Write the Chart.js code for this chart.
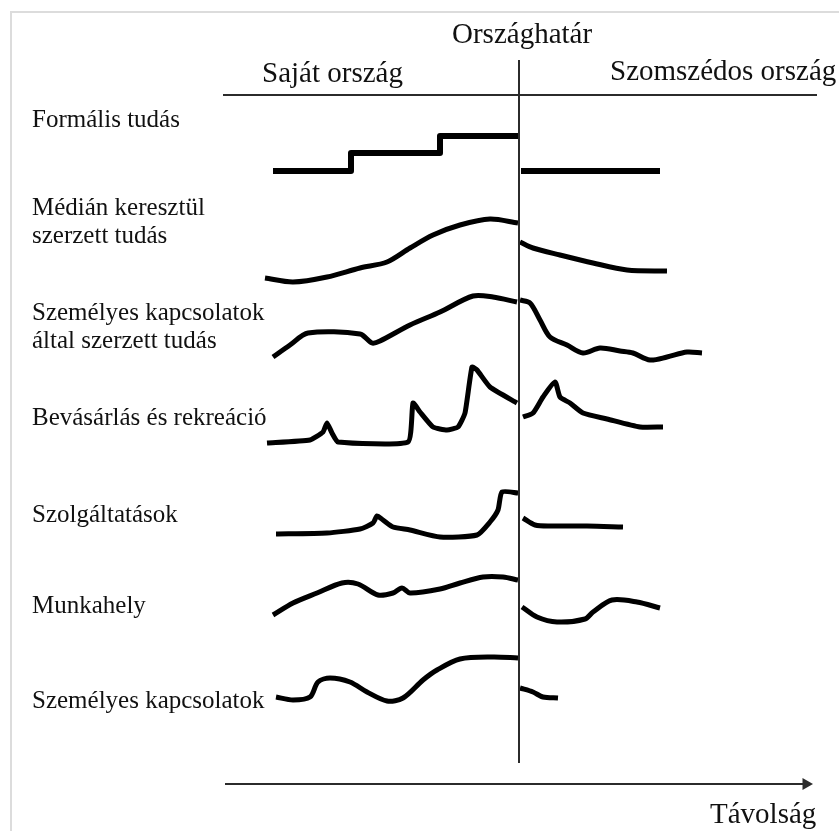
<!DOCTYPE html>
<html>
<head>
<meta charset="utf-8">
<script src="https://cdn.jsdelivr.net/npm/chart.js@4.4.1/dist/chart.umd.min.js"></script>
<style>
  body { margin: 0; background: #fff; }
  #wrap { position: relative; width: 839px; height: 831px; overflow: hidden; }
  #frame { position: absolute; left: 10px; top: 11px; width: 900px; height: 900px;
           border-left: 2px solid #dcdcdc; border-top: 2px solid #dcdcdc; }
  canvas { position: absolute; left: 0; top: 0; }
  .t { position: absolute; font-family: "Liberation Serif", "Times New Roman", serif;
       color: #111; white-space: nowrap; line-height: 1; }
  .lab { font-size: 25px; }
  .head { font-size: 29px; }
</style>
</head>
<body>
<div id="wrap">
  <div id="frame"></div>
  <canvas id="chart" width="839" height="831"></canvas>
  <div id="texts"></div>
</div>
<script>
// row labels, [text, x, baseline]
var rowLabels = [
    ["Formális tudás", 32, 127],
    ["Médián keresztül", 32, 215],
    ["szerzett tudás", 32, 243],
    ["Személyes kapcsolatok", 32, 320],
    ["által szerzett tudás", 32, 348],
    ["Bevásárlás és rekreáció", 32, 425],
    ["Szolgáltatások", 32, 522],
    ["Munkahely", 32, 613],
    ["Személyes kapcsolatok", 32, 708]
];
var headLabels = [
    ["Országhatár", 452, 43],
    ["Saját ország", 262, 82],
    ["Szomszédos ország", 610, 80],
    ["Távolság", 710, 823]
];

// curves: [x, y] (y grows downwards)
var formalisOwn = [[273,171],[351,171],[351,153],[440,153],[440,136],[519,136]];
var formalisNext = [[521,171],[660,171]];
var medianOwn = [[265,278],[293,282],[327,277],[360,268],[387,262],[410,248],[433,235],[460,225],[490,219],[518,223]];
var medianNext = [[520,242],[533,248],[560,255],[593,263],[627,270],[667,271]];
var szemelyesOwn = [[273,357],[290,345],[308,333],[360,334],[372,343],[380,341],[410,325],[440,312],[473,296],[493,297],[517,302]];
var szemelyesNext = [[520,300],[530,303],[540,320],[550,337],[567,345],[583,353],[600,348],[620,351],[633,353],[650,360],[667,357],[687,352],[702,353]];
var bevasarlasOwn = [[267,443],[310,440],[323,432],[327,423],[332,433],[338,442],[408,442],[413,403],[420,412],[433,427],[447,430],[458,427],[465,413],[472,367],[477,370],[490,387],[517,403]];
var bevasarlasNext = [[523,417],[533,413],[543,397],[555,382],[560,397],[570,403],[583,413],[607,419],[640,427],[663,427]];
var szolgOwn = [[276,534],[327,533],[360,529],[373,523],[377,516],[383,520],[393,527],[410,530],[440,537],[477,535],[490,522],[498,510],[502,492],[518,493]];
var szolgNext = [[523,518],[535,525],[553,526],[587,526],[623,527]];
var munkaOwn = [[273,615],[293,603],[317,593],[342,583],[358,584],[378,595],[393,593],[402,588],[410,593],[440,589],[460,583],[483,577],[503,577],[518,580]];
var munkaNext = [[522,607],[537,617],[557,622],[585,619],[593,612],[612,600],[637,602],[660,608]];
var kapcsOwn = [[276,697],[293,700],[310,697],[318,682],[330,678],[350,682],[367,692],[387,701],[403,698],[423,680],[437,670],[460,659],[493,657],[518,658]];
var kapcsNext = [[520,688],[533,692],[543,697],[558,698]];

// frame lines
var borderLine = [[519,60],[519,763]];
var headerLine = [[223,95],[817,95]];
var distanceAxis = [[225,784],[806,784]];

function pts(a) {
    return a.map(function(p) { return {x: p[0], y: p[1]}; });
}
function curve(a, tension) {
    return {
        data: pts(a), borderColor: '#000', borderWidth: 5, pointRadius: 0, pointHoverRadius: 0,
        tension: tension, borderCapStyle: 'butt', borderJoinStyle: 'round', fill: false
    };
}
function thin(a, w) {
    return { data: pts(a), borderColor: '#2b2b2b', borderWidth: w, pointRadius: 0, pointHoverRadius: 0, tension: 0, fill: false };
}

var datasets = [
    thin(borderLine, 2),
    thin(headerLine, 2),
    {
        data: pts(distanceAxis), borderColor: '#2b2b2b', borderWidth: 2, tension: 0,
        pointRadius: [0, 7], pointHoverRadius: 0, pointStyle: 'triangle', rotation: 90,
        pointBackgroundColor: '#2b2b2b', pointBorderColor: '#2b2b2b', pointBorderWidth: 0
    },
    curve(formalisOwn, 0), curve(formalisNext, 0),
    curve(medianOwn, 0.3), curve(medianNext, 0.3),
    curve(szemelyesOwn, 0.3), curve(szemelyesNext, 0.3),
    curve(bevasarlasOwn, 0.15), curve(bevasarlasNext, 0.2),
    curve(szolgOwn, 0.2), curve(szolgNext, 0.3),
    curve(munkaOwn, 0.3), curve(munkaNext, 0.3),
    curve(kapcsOwn, 0.3), curve(kapcsNext, 0.3)
];
datasets[3].borderWidth = 6;
datasets[4].borderWidth = 6;

var ctx = document.getElementById('chart').getContext('2d');
window.myChart = new Chart(ctx, {
    type: 'line',
    data: { datasets: datasets },
    options: {
        responsive: false,
        animation: false,
        events: [],
        layout: { padding: 0, autoPadding: false },
        plugins: { legend: { display: false }, tooltip: { enabled: false } },
        scales: {
            x: { type: 'linear', min: 0, max: 839, display: false },
            y: { type: 'linear', min: 0, max: 831, reverse: true, display: false }
        }
    }
});

// text as html, placed by baseline
var box = document.getElementById('texts');
function put(list, cls, size) {
    list.forEach(function(l) {
        var d = document.createElement('div');
        d.className = 't ' + cls;
        d.textContent = l[0];
        d.style.left = l[1] + 'px';
        d.style.top = (l[2] - 0.8375 * size) + 'px';
        box.appendChild(d);
    });
}
put(rowLabels, 'lab', 25);
put(headLabels, 'head', 29);
</script>
</body>
</html>
